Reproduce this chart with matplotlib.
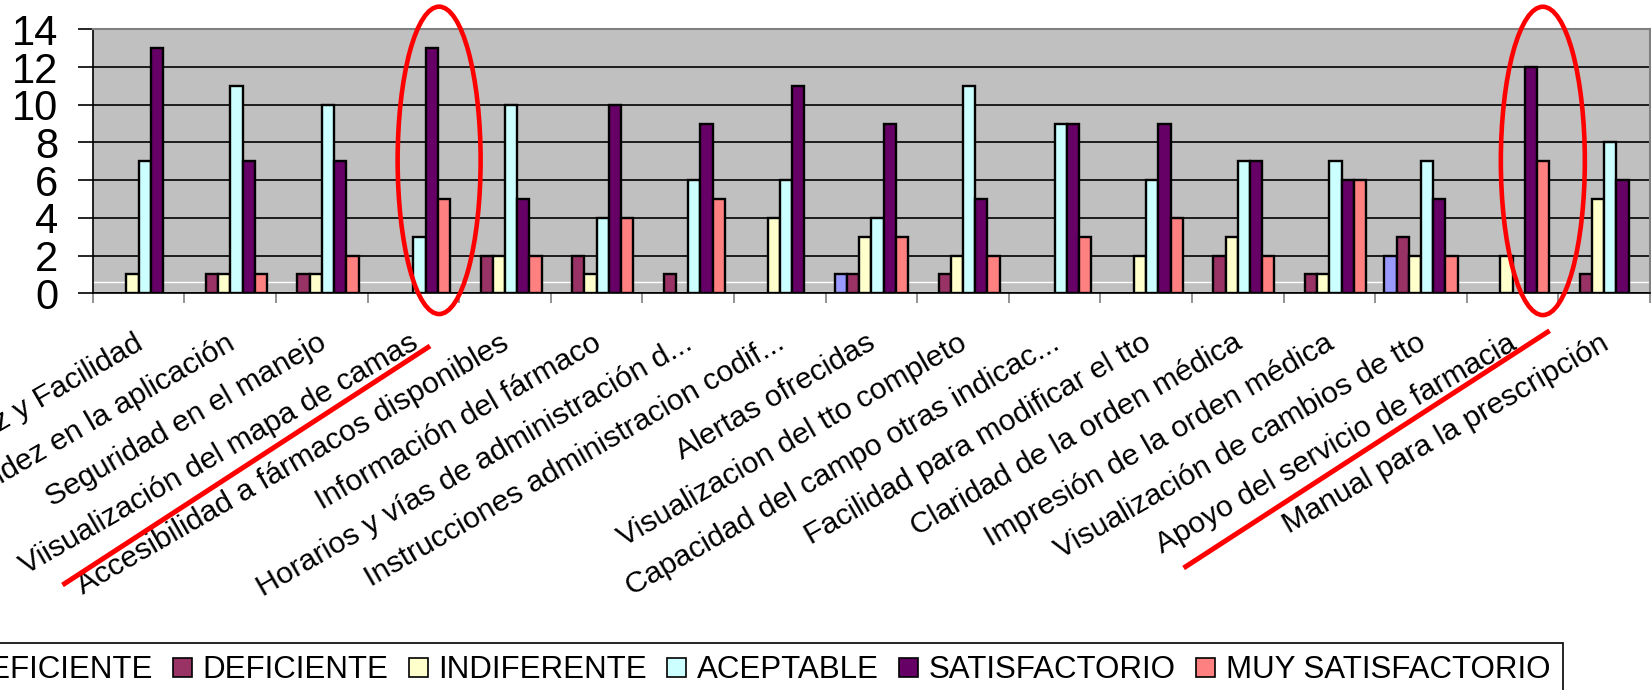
import matplotlib
matplotlib.use('Agg')
import matplotlib.pyplot as plt
import numpy as np
from matplotlib.patches import Ellipse, Patch
from matplotlib.lines import Line2D
from matplotlib.transforms import ScaledTranslation

# ---------------- data ----------------
categories = [
    "Sencillez y Facilidad",
    "Rapidez en la aplicación",
    "Seguridad en el manejo",
    "Viisualización del mapa de camas",
    "Accesibilidad a fármacos disponibles",
    "Información del fármaco",
    "Horarios y vías de administración d...",
    "Instrucciones administracion codif...",
    "Alertas ofrecidas",
    "Visualizacion del tto completo",
    "Capacidad del campo otras indicac...",
    "Facilidad para modificar el tto",
    "Claridad de la orden médica",
    "Impresión de la orden médica",
    "Visualización de cambios de tto",
    "Apoyo del servicio de farmacia",
    "Manual para la prescripción",
]
series_names = ["MUY DEFICIENTE", "DEFICIENTE", "INDIFERENTE",
                "ACEPTABLE", "SATISFACTORIO", "MUY SATISFACTORIO"]
muy_deficiente    = [0, 0, 0, 0, 0, 0, 0, 0, 1, 0, 0, 0, 0, 0, 2, 0, 0]
deficiente        = [0, 1, 1, 0, 2, 2, 1, 0, 1, 1, 0, 0, 2, 1, 3, 0, 1]
indiferente       = [1, 1, 1, 0, 2, 1, 0, 4, 3, 2, 0, 2, 3, 1, 2, 2, 5]
aceptable         = [7, 11, 10, 3, 10, 4, 6, 6, 4, 11, 9, 6, 7, 7, 7, 0, 8]
satisfactorio     = [13, 7, 7, 13, 5, 10, 9, 11, 9, 5, 9, 9, 7, 6, 5, 12, 6]
muy_satisfactorio = [0, 1, 2, 5, 2, 4, 5, 0, 3, 2, 3, 4, 2, 6, 2, 7, 0]
y_ticks = [0, 2, 4, 6, 8, 10, 12, 14]

series_values = [muy_deficiente, deficiente, indiferente,
                 aceptable, satisfactorio, muy_satisfactorio]
colors = ["#9999FF", "#993366", "#FFFFCC", "#CCFFFF", "#660066", "#FF8080"]

# ---------------- figure ----------------
W, H = 1651, 690
plt.rcParams['font.family'] = ['Liberation Sans', 'DejaVu Sans']
fig = plt.figure(figsize=(W / 100, H / 100), dpi=100)

left_px, right_px, top_px, bot_px = 92.9, 1650.0, 29.3, 293.3
ax = fig.add_axes([left_px / W, 1 - bot_px / H,
                   (right_px - left_px) / W, (bot_px - top_px) / H])
ax.set_facecolor("#C0C0C0")
ax.set_axisbelow(True)

n_cat = len(categories)
n_ser = len(series_values)
x = np.arange(n_cat) + 0.5
bw = 0.8 / n_ser
for i, (vals, col) in enumerate(zip(series_values, colors)):
    bars = ax.bar(x + (i - (n_ser - 1) / 2) * bw, vals, width=bw,
                  color=col, edgecolor="black", linewidth=1.7, zorder=2)
    for rect, v in zip(bars, vals):
        if v == 0:
            rect.set_visible(False)

ax.set_xlim(0, n_cat)
ax.set_ylim(0, 14)

# grid
ax.yaxis.grid(True, color="black", linewidth=1.2)
ax.axhline(0.6, color="white", linewidth=1.0, zorder=0.6)

# spines
ax.spines['top'].set_color("#808080")
ax.spines['right'].set_color("#808080")
ax.spines['top'].set_linewidth(1.5)
ax.spines['right'].set_linewidth(1.5)
ax.spines['left'].set_color("black")
ax.spines['bottom'].set_color("black")
ax.spines['left'].set_linewidth(1.2)
ax.spines['bottom'].set_linewidth(1.2)

# y ticks
ax.set_yticks(y_ticks)
ax.set_yticklabels([str(v) for v in y_ticks])
ax.tick_params(axis='y', length=10.8, width=1.2, color="black",
               labelsize=30, pad=14)

# x ticks
ax.set_xticks(x)
ax.set_xticklabels(categories)
ax.set_xticks(np.arange(n_cat + 1), minor=True)
ax.tick_params(axis='x', which='major', length=0, labelsize=21.8, pad=25.5)
ax.tick_params(axis='x', which='minor', length=7.2, width=1.2, color="#808080")
shift = ScaledTranslation(-5 / 100, 0, fig.dpi_scale_trans)
for lab in ax.get_xticklabels():
    lab.set_rotation(30)
    lab.set_ha('right')
    lab.set_va('top')
    lab.set_rotation_mode('anchor')
    lab.set_transform(lab.get_transform() + shift)

# red annotations
for cx, cy, ew, eh in [(3.78, 7.05, 0.906, 16.3), (15.83, 7.02, 0.917, 16.35)]:
    ax.add_patch(Ellipse((cx, cy), ew, eh, fill=False, edgecolor="#FF0000",
                         linewidth=3.3, clip_on=False, zorder=5))
for (x0, y0), (x1, y1) in [((62.5, 585), (430, 346)),
                           ((1183.6, 568), (1549.6, 330.7))]:
    fig.add_artist(Line2D([x0 / W, x1 / W], [1 - y0 / H, 1 - y1 / H],
                          transform=fig.transFigure, color="#FF0000",
                          linewidth=3.6, solid_capstyle='butt'))

# legend
handles = [Patch(facecolor=c, edgecolor="black", linewidth=1.2) for c in colors]
leg = fig.legend(handles, series_names, ncol=n_ser, loc='upper left',
                 bbox_to_anchor=(-153 / W, 1 - 643 / H),
                 bbox_transform=fig.transFigure, borderaxespad=0,
                 borderpad=0.4, handlelength=0.6, handleheight=0.6,
                 handletextpad=0.34, columnspacing=0.66, fontsize=22.5,
                 frameon=True, fancybox=False, framealpha=1)
leg.get_frame().set_edgecolor("black")
leg.get_frame().set_linewidth(1.2)

fig.savefig("out.png", dpi=100)
